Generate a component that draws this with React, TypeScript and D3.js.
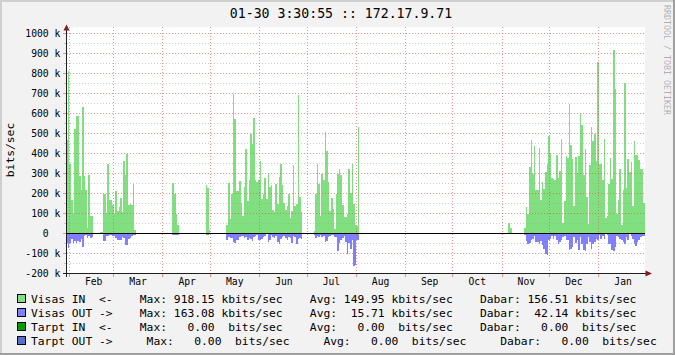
import React from 'react';
import * as d3 from 'd3';

// ---- time range (UTC) ----
const START = Date.UTC(2010, 0, 30, 3, 30, 55);
const END = Date.UTC(2011, 0, 30, 3, 30, 55);
const DAY = 86400000;

// ---- texts ----
const titleText = '01-30 3:30:55 :: 172.17.9.71';
const yUnitLabel = 'bits/sec';
const watermark = 'RRDTOOL / TOBI OETIKER';

// ---- axis ticks (kbit/s) ----
const yMajorTicks = [-200, -100, 0, 100, 200, 300, 400, 500, 600, 700, 800, 900, 1000];
const yMinorTicks = [-150, -50, 50, 150, 250, 350, 450, 550, 650, 750, 850, 950];
const monthNames = ['Feb', 'Mar', 'Apr', 'May', 'Jun', 'Jul', 'Aug', 'Sep', 'Oct', 'Nov', 'Dec', 'Jan'];

// ---- daily data, kbit/s (IN positive, OUT drawn below zero) ----
const startA = '2010-01-30';
const visasInA = [470, 812, 350, 167, 100, 525, 587, 587, 287, 217, 633, 287, 217, 28, 292, 87, 87];
const visasOutA = [47, 72, 47, 25, 47, 38, 47, 35, 42, 28, 67, 12, 5, 20, 13, 20, 15];

const startB = '2010-02-20';
const visasInB = [8, 8, 200, 200, 105, 350, 167, 167, 142, 97, 212, 112, 133, 178, 108, 363, 295, 400, 142, 150, 145, 247, 17];
const visasOutB = [3, 3, 37, 37, 13, 13, 8, 8, 13, 13, 22, 33, 30, 30, 17, 20, 55, 55, 28, 20, 13, 8, 8];

const startC = '2010-04-07';
const visasInC = [255, 200, 97, 42];
const visasOutC = [8, 8, 5, 5];

const startD = '2010-04-28';
const visasInD = [242, 230, 17];
const visasOutD = [8, 8, 3];

const startE = '2010-05-11';
const visasInE = [42, 255, 75, 200, 700, 575, 212, 212, 262, 155, 87, 233, 422, 162, 270, 500, 450, 578, 267, 258,
  267, 362, 175, 200, 278, 175, 297, 233, 242, 117, 108, 247, 150, 283, 347, 242, 155, 117, 138, 200,
  78, 113, 342, 138, 150, 692, 183, 108];
const visasOutE = [33, 17, 22, 22, 42, 47, 33, 30, 17, 13, 13, 22, 17, 33, 20, 25, 37, 17, 13, 8,
  30, 33, 25, 17, 13, 3, 42, 33, 8, 17, 22, 13, 42, 50, 25, 17, 13, 22, 33, 17,
  22, 47, 13, 17, 50, 25, 20, 25];

const startF = '2010-07-05';
const visasInF = [13, 200, 350, 247, 87, 300, 270, 508, 412, 258, 112, 180, 125, 25, 200, 297, 325, 292, 145, 83,
  83, 97, 325, 205, 350, 150, 42, 38, 533];
const visasOutF = [5, 22, 13, 17, 8, 17, 13, 42, 38, 17, 13, 8, 8, 17, 17, 87, 47, 30, 20, 13,
  42, 100, 47, 75, 33, 163, 155, 33, 33];

const startG = '2010-11-05';
const visasInG = [55, 30];
const visasOutG = [0, 0];

const startH = '2010-11-13';
const visasInH = [4];
const visasOutH = [0];

const startI = '2010-11-15';
const visasInI = [27, 133, 100, 333, 467, 300, 438, 217, 217, 430, 167, 258, 222, 308, 350, 487, 397, 278, 272, 270,
  392, 278, 312, 475, 55, 162, 388, 378, 650,
  442, 375, 137, 383, 305, 388, 597, 542, 292, 422, 183, 50, 342, 533, 462, 500, 362,
  858, 350, 350, 267, 472, 80, 88, 247, 378, 272, 918, 722, 100, 167, 322, 42, 217, 753, 230, 375,
  308, 358, 137, 462, 392, 392, 370, 322, 322, 155];
const visasOutI = [5, 37, 50, 45, 33, 25, 13, 42, 42, 50, 37, 58, 75, 100, 108, 30, 25, 13, 25, 13,
  33, 50, 42, 33, 17, 13, 30, 30, 83,
  75, 67, 17, 47, 33, 83, 17, 50, 80, 87, 50, 17, 42, 75, 50, 42, 25,
  33, 8, 25, 13, 25, 3, 8, 50, 50, 83, 88, 67, 13, 17, 25, 33, 42, 50, 17, 30,
  3, 13, 25, 50, 63, 42, 30, 17, 13, 13];

// ---- legend ----
const legendColors = ['#80E080', '#8080FF', '#00A000', '#5570C8'];
const legendLines = [
  'Visas IN  <-    Max: 918.15 kbits/sec    Avg: 149.95 kbits/sec    Dabar: 156.51 kbits/sec',
  'Visas OUT ->    Max: 163.08 kbits/sec    Avg:  15.71 kbits/sec    Dabar:  42.14 kbits/sec',
  'Tarpt IN  <-    Max:   0.00  bits/sec    Avg:   0.00  bits/sec    Dabar:   0.00  bits/sec',
  'Tarpt OUT ->     Max:   0.00  bits/sec     Avg:   0.00  bits/sec     Dabar:   0.00  bits/sec',
];

const COLOR_IN = '#80E080';
const COLOR_OUT = '#8080FF';
const BACK = '#F2F2F2';
const SHADE_A = '#CFCFCF';
const SHADE_B = '#9E9E9E';
const GRID = 'rgba(160,160,160,0.55)';
const MGRID = 'rgba(222,79,79,0.6)';
const ARROW = '#801F1F';
const AXIS = '#1F1F1F';
const MONO = "'DejaVu Sans Mono', monospace";

export default function App() {
  const W = 675;
  const H = 355;
  const left = 66.5;
  const right = 645;
  const canvasTop = 27;

  const x = d3.scaleUtc().domain([new Date(START), new Date(END)]).range([left, right]);
  const y = d3.scaleLinear().domain([-200, 1000]).range([273.5, 33.5]);
  const crisp = (v: number) => Math.round(v - 0.5) + 0.5;

  const segments = [
    { start: startA, inV: visasInA, outV: visasOutA },
    { start: startB, inV: visasInB, outV: visasOutB },
    { start: startC, inV: visasInC, outV: visasOutC },
    { start: startD, inV: visasInD, outV: visasOutD },
    { start: startE, inV: visasInE, outV: visasOutE },
    { start: startF, inV: visasInF, outV: visasOutF },
    { start: startG, inV: visasInG, outV: visasOutG },
    { start: startH, inV: visasInH, outV: visasOutH },
    { start: startI, inV: visasInI, outV: visasOutI },
  ];

  const toPoints = (start: string, vals: number[]) => {
    const t0 = Date.parse(start + 'T00:00:00Z');
    const p: [number, number][] = vals.map((v, i) => [t0 + i * DAY, v]);
    p.push([t0 + vals.length * DAY, vals[vals.length - 1]]);
    return p;
  };

  const areaIn = d3.area<[number, number]>()
    .x(d => x(d[0]))
    .y0(y(0))
    .y1(d => y(d[1]))
    .curve(d3.curveStepAfter);
  const areaOut = d3.area<[number, number]>()
    .x(d => x(d[0]))
    .y0(y(0))
    .y1(d => y(-d[1]))
    .curve(d3.curveStepAfter);

  const months = d3.utcMonth.range(new Date(START), new Date(END));
  const monthFmt = d3.utcFormat('%b');

  const yLabel = (v: number) => (v === 0 ? '0  ' : `${v} k`);

  return (
    <svg width={W} height={H} style={{ position: 'absolute', left: 0, top: 0 }}
      xmlns="http://www.w3.org/2000/svg">
      <defs>
        <clipPath id="plotClip">
          <rect x={left} y={canvasTop} width={right - left} height={273.5 - canvasTop} />
        </clipPath>
      </defs>
      {/* background and shaded border */}
      <rect x={0} y={0} width={W} height={H} fill={BACK} />
      <rect x={0} y={0} width={W} height={2} fill={SHADE_A} />
      <rect x={0} y={0} width={2} height={H} fill={SHADE_A} />
      <rect x={0} y={H - 2} width={W} height={2} fill={SHADE_B} />
      <rect x={W - 2} y={0} width={2} height={H} fill={SHADE_B} />

      {/* canvas */}
      <rect x={left} y={canvasTop} width={right - left} height={273.5 - canvasTop} fill="#FFFFFF" />

      {/* data */}
      <g clipPath="url(#plotClip)" shapeRendering="crispEdges">
        {segments.map((s, i) => (
          <path key={'in' + i} d={areaIn(toPoints(s.start, s.inV)) || ''} fill={COLOR_IN} />
        ))}
        {segments.map((s, i) => (
          <path key={'out' + i} d={areaOut(toPoints(s.start, s.outV)) || ''} fill={COLOR_OUT} />
        ))}
      </g>

      {/* grid */}
      <g strokeWidth={1} strokeDasharray="1,2" shapeRendering="crispEdges">
        {yMinorTicks.map(v => (
          <line key={'ym' + v} x1={left} x2={right} y1={crisp(y(v))} y2={crisp(y(v))} stroke={GRID} />
        ))}
        {yMajorTicks.map(v => (
          <line key={'yM' + v} x1={left} x2={right} y1={crisp(y(v))} y2={crisp(y(v))} stroke={MGRID} />
        ))}
        {months.map(m => (
          <line key={'xm' + m.getTime()} x1={crisp(x(m))} x2={crisp(x(m))} y1={canvasTop} y2={273.5} stroke={MGRID} />
        ))}
      </g>
      {/* small ticks */}
      <g strokeWidth={1} shapeRendering="crispEdges">
        {yMinorTicks.map(v => (
          <line key={'tm' + v} x1={64} x2={left} y1={crisp(y(v))} y2={crisp(y(v))} stroke={GRID} />
        ))}
        {yMajorTicks.map(v => (
          <line key={'tM' + v} x1={63} x2={left} y1={crisp(y(v))} y2={crisp(y(v))} stroke={MGRID} />
        ))}
        {months.map(m => (
          <line key={'tx' + m.getTime()} x1={crisp(x(m))} x2={crisp(x(m))} y1={273.5} y2={277} stroke={MGRID} />
        ))}
      </g>

      {/* zero line */}
      <line x1={left} x2={right} y1={crisp(y(0))} y2={crisp(y(0))} stroke="#000000" strokeWidth={1} shapeRendering="crispEdges" />

      {/* axes */}
      <line x1={63} x2={648} y1={273.5} y2={273.5} stroke={AXIS} strokeWidth={1} shapeRendering="crispEdges" />
      <line x1={66.5} x2={66.5} y1={277} y2={29} stroke={AXIS} strokeWidth={1} shapeRendering="crispEdges" />
      <path d="M645.5,270.5 L652,273.5 L645.5,276.5 Z" fill={ARROW} />
      <path d="M63.5,30.5 L66.5,24.5 L69.5,30.5 Z" fill={ARROW} />

      {/* y tick labels */}
      <g fontFamily={MONO} fontSize={9.7} fill="#000">
        {yMajorTicks.map(v => (
          <text key={'yl' + v} x={60.3} y={y(v) + 3.6} textAnchor="end" xmlSpace="preserve" style={{ whiteSpace: 'pre' }}>
            {yLabel(v)}
          </text>
        ))}
        {months.map((m, i) => (
          <text key={'ml' + i} x={x(m.getTime() + 15.3 * DAY)} y={284.5} textAnchor="middle">
            {monthFmt(m) || monthNames[i]}
          </text>
        ))}
      </g>

      {/* title */}
      <text x={341} y={18} textAnchor="middle" fontFamily={MONO} fontSize={13.2} fill="#000">{titleText}</text>

      {/* unit label */}
      <text transform="translate(14,150) rotate(-90)" textAnchor="middle" fontFamily={MONO} fontSize={11.3} fill="#000">
        {yUnitLabel}
      </text>

      {/* watermark */}
      <text transform="translate(663.5,5) rotate(90)" textAnchor="start" fontFamily={MONO} fontSize={8.3} fill="rgba(0,0,0,0.3)">
        {watermark}
      </text>

      {/* legend */}
      {legendLines.map((line, i) => (
        <g key={'lg' + i}>
          <rect x={17.5} y={294.5 + i * 14} width={8} height={8} fill={legendColors[i]} stroke="#000" strokeWidth={1} shapeRendering="crispEdges" />
          <text x={31} y={302.5 + i * 14} fontFamily={MONO} fontSize={11.3} fill="#000" xmlSpace="preserve" style={{ whiteSpace: 'pre' }}>
            {line}
          </text>
        </g>
      ))}
    </svg>
  );
}
